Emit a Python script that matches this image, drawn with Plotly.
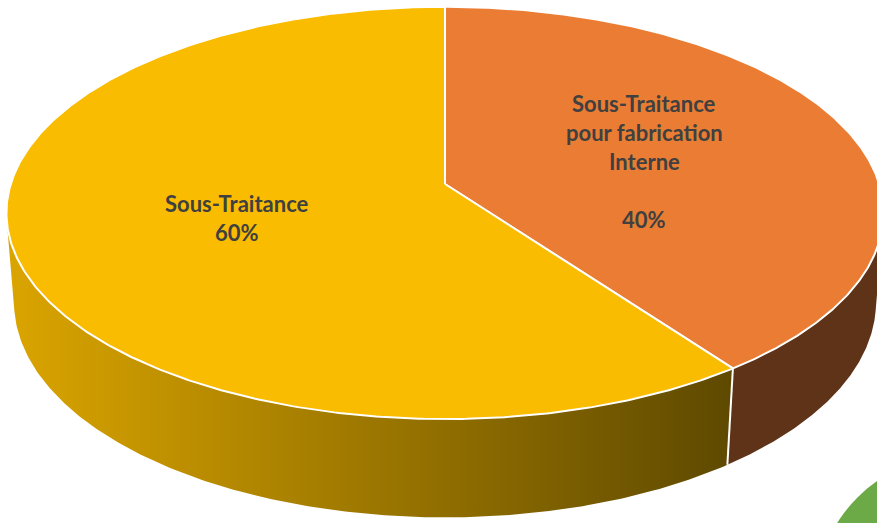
import numpy as np
import plotly.graph_objects as go

# Pie data (first category starts at 12 o'clock, clockwise)
categories = ["Sous-Traitance pour fabrication Interne", "Sous-Traitance"]
label_lines = [["Sous-Traitance", "pour fabrication", "Interne", ""], ["Sous-Traitance"]]
values = [40, 60]
top_colors = ["#EA7D33", "#F9BC00"]
side_gradient = [["#5E3317", "#5E3317"], ["#DBA500", "#5E4900"]]

W, H = 877, 523

# Perspective camera for the 3D disc
S, D = 2740.0, 6.31
SA, CA = 0.4654, 0.885
CX, CY = 445.0, 184.0
DEPTH = 0.235


def project(theta_deg, z):
    t = np.radians(theta_deg)
    X, Y = np.sin(t), np.cos(t)
    w = D + Y * CA - z * SA
    u = X / w * S
    v = (Y * SA + z * CA) / w * S
    return CX + u, CY - v


def arc(t0, t1, z, n=200):
    th = np.linspace(t0, t1, n)
    return project(th, z)


total = float(sum(values))
bounds = np.concatenate([[0.0], np.cumsum(values) / total * 360.0])

# Silhouette of the cylinder wall as seen from the camera
cam_y = -D * CA
lim = np.degrees(np.arccos(1.0 / cam_y))
vis0, vis1 = lim, 360.0 - lim

fig = go.Figure()

# Side walls
for i in range(len(values)):
    a0, a1 = max(bounds[i], vis0), min(bounds[i + 1], vis1)
    if a1 <= a0:
        continue
    tx, ty = arc(a0, a1, 0.0)
    bx, by = arc(a1, a0, -DEPTH)
    xs = np.concatenate([tx, bx, tx[:1]])
    ys = np.concatenate([ty, by, ty[:1]])
    fig.add_trace(go.Scatter(
        x=xs, y=ys, mode="lines", line=dict(width=0), fill="toself",
        fillgradient=dict(type="horizontal",
                          colorscale=[[0, side_gradient[i][0]], [1, side_gradient[i][1]]]),
        hoverinfo="skip", showlegend=False))

# White seam on the wall at each slice boundary
for b in bounds[1:-1]:
    if vis0 < b < vis1:
        x0, y0 = project(b, 0.0)
        x1, y1 = project(b, -DEPTH)
        fig.add_trace(go.Scatter(x=[x0, x1], y=[y0, y1], mode="lines",
                                 line=dict(color="white", width=2),
                                 hoverinfo="skip", showlegend=False))

# Top face slices
for i in range(len(values)):
    tx, ty = arc(bounds[i], bounds[i + 1], 0.0, 400)
    xs = np.concatenate([[CX], tx, [CX]])
    ys = np.concatenate([[CY], ty, [CY]])
    fig.add_trace(go.Scatter(
        x=xs, y=ys, mode="lines", line=dict(color="white", width=2),
        fill="toself", fillcolor=top_colors[i],
        hoverinfo="skip", showlegend=False))

# Data labels
label_font = dict(family="Lato, Carlito, sans-serif", size=22, color="#404040")
label_pos = [(644, [103, 132, 161, 190], 219), (237, [203], 232)]
for i, (lx, line_ys, py) in enumerate(label_pos):
    for txt, yy in zip(label_lines[i], line_ys):
        if txt:
            fig.add_annotation(x=lx, y=yy, text=f"<b>{txt}</b>", showarrow=False,
                               font=label_font, xanchor="center", yanchor="middle")
    pct = round(values[i] / total * 100)
    fig.add_annotation(x=lx, y=py, text=f"<b>{pct}%</b>", showarrow=False,
                       font=label_font, xanchor="center", yanchor="middle")

# Neighbouring green element at the corner
fig.add_shape(type="circle", x0=815, y0=455, x1=1105, y1=745,
              fillcolor="#6BAA47", line=dict(width=0), layer="below")

fig.update_layout(
    width=W, height=H, margin=dict(l=0, r=0, t=0, b=0),
    paper_bgcolor="white", plot_bgcolor="white",
    xaxis=dict(range=[0, W], visible=False, fixedrange=True),
    yaxis=dict(range=[H, 0], visible=False, fixedrange=True),
    showlegend=False,
)

fig.write_html("out.html")
